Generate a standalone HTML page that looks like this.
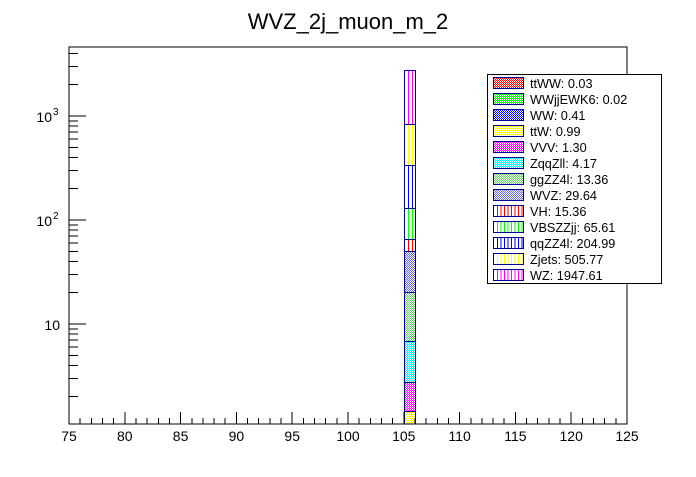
<!DOCTYPE html>
<html><head><meta charset="utf-8"><style>
body{margin:0;background:#fff}
svg text{font-family:"Liberation Sans",Arial,sans-serif}
</style></head><body>
<svg id="c" width="696" height="472" xmlns="http://www.w3.org/2000/svg" shape-rendering="crispEdges">
<defs id="defs"></defs>
<text x="348" y="29" font-size="22" text-anchor="middle">WVZ_2j_muon_m_2</text>
<g id="plot"></g>
<rect x="69" y="47" width="558" height="377" fill="none" stroke="#000" stroke-width="1"/>
<g id="axes"></g>
<g id="legend"></g>
</svg>
<script>
const names=["ttWW","WWjjEWK6","WW","ttW","VVV","ZqqZll","ggZZ4l","WVZ","VH","VBSZZjj","qqZZ4l","Zjets","WZ"];
const values=[0.03,0.02,0.41,0.99,1.30,4.17,13.36,29.64,15.36,65.61,204.99,505.77,1947.61];
const colors=["#ff0000","#00ff00","#0000ff","#ffff00","#ff00ff","#00ffff","#66cc66","#6666cc","#ff0000","#00ff00","#0000ff","#ffff00","#ff00ff"];
const hatch=["c","c","c","c","c","c","c","c","v","v","v","v","v"];
const binLo=105, binHi=106;
const xTicks=[75,80,85,90,95,100,105,110,115,120,125];
const yTickLabels=[["10",1],["10","2"],["10","3"]];
const ns="http://www.w3.org/2000/svg";
const X0=69,X1=627,Y0=424,Y1=47,xmin=75,xmax=125;
const ymin=Math.pow(10,1-(Y0-324)/104), ymax=Math.pow(10,1+(324-Y1)/104);
const xs=v=>X0+(v-xmin)/(xmax-xmin)*(X1-X0);
const ys=v=>324-104*Math.log10(v/10);
function el(t,a,p){const e=document.createElementNS(ns,t);for(const k in a)e.setAttribute(k,a[k]);p.appendChild(e);return e;}
const defs=document.getElementById('defs');
colors.forEach((c,i)=>{
  const p=el('pattern',{id:'p'+i,patternUnits:'userSpaceOnUse',x:0,y:0,width:2,height:2},defs);
  el('rect',{x:0,y:0,width:2,height:2,fill:'#fff'},p);
  if(hatch[i]=='c'){el('rect',{x:0,y:0,width:1,height:1,fill:c},p);el('rect',{x:1,y:1,width:1,height:1,fill:c},p);}
});
const clip=el('clipPath',{id:'clip'},defs);el('rect',{x:X0,y:Y1,width:X1-X0,height:Y0-Y1},clip);
const plot=document.getElementById('plot');plot.setAttribute('clip-path','url(#clip)');
function box(x,y,w,h,i,parent,name,step){
  const g=el('g',{},parent);
  
  
  el('rect',{x:x,y:y,width:w,height:h,fill:'url(#p'+i+')'},g);
  if(hatch[i]=='v'){for(let lx=Math.round(x)+3;lx<x+w-1;lx+=step){el('line',{x1:lx+0.5,x2:lx+0.5,y1:y,y2:y+h,stroke:colors[i],'stroke-width':1},g);}}
  el('rect',{x:x,y:y,width:w,height:h,fill:'none',stroke:'#000099','stroke-width':1},g);
}
let cum=0;
values.forEach((v,i)=>{
  const lo=cum;cum+=v;
  const yTop=Math.round(ys(cum))+0.5, yBot=lo>0?Math.min(Math.round(ys(lo))+0.5,Y0+5):Y0+5;
  if(yBot>yTop)box(Math.round(xs(binLo))+0.5,yTop,Math.round(xs(binHi)-xs(binLo)),yBot-yTop,i,plot,'bar-'+names[i].toLowerCase(),4);
});
const ax=document.getElementById('axes');
for(let v=xmin;v<=xmax;v++){
  const major=(v%5==0);
  const l=el('line',{x1:xs(v),x2:xs(v),y1:Y0,y2:Y0-(major?12:6),stroke:'#000'},ax);
  
}
xTicks.forEach(v=>{const t=el('text',{x:xs(v),y:Y0+17,'font-size':14,'text-anchor':'middle'},ax);t.textContent=v;
  });
for(let e=0;e<4;e++)for(let m=1;m<10;m++){
  const v=m*Math.pow(10,e);if(v<ymin||v>ymax)continue;
  const l=el('line',{x1:X0,x2:X0+(m==1?17:9),y1:ys(v),y2:ys(v),stroke:'#000'},ax);
  
}
yTickLabels.forEach(([b,ex],i)=>{
  const v=Math.pow(10,i+1);
  const t=el('text',{x:ex===1?60:52,y:ys(v)+6,'font-size':14,'text-anchor':'end'},ax);
  t.textContent=b;
  if(ex!==1){const s=el('text',{x:53,y:ys(v)-1,'font-size':10},ax);s.textContent=ex;
    }
});
const lg=document.getElementById('legend');
el('rect',{x:487.5,y:74.5,width:174,height:209,fill:'#fff',stroke:'#000'},lg);
names.forEach((n,i)=>{
  const y=77+i*16;
  box(493.5,y+0.5,30,11,i,lg,'legend-swatch',3.5);
  const t=el('text',{x:530,y:y+11,'font-size':12.7},lg);t.textContent=n+': '+values[i].toFixed(2);
  
});
</script>
</body></html>
